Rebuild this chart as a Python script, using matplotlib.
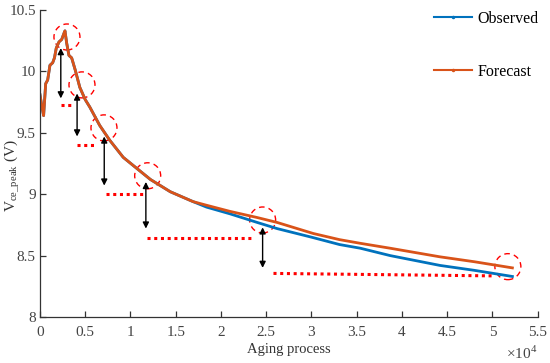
import numpy as np
import matplotlib
matplotlib.use('Agg')
import matplotlib.pyplot as plt
from matplotlib.patches import Ellipse
from matplotlib.lines import Line2D
from matplotlib.ticker import FuncFormatter

plt.rcParams['font.family'] = 'Liberation Serif'
plt.rcParams['mathtext.fontset'] = 'custom'
plt.rcParams['mathtext.rm'] = 'Liberation Serif'

# forecast curve (x in aging cycles, y in V)
x_fc = [0, 200, 400, 630, 850, 1100, 1400, 1600, 1800, 2100, 2400, 2650, 2760,
        2950, 3200, 3500, 3900, 4400, 5000, 5500, 6600, 7700, 9200, 10700,
        12200, 14400, 16900, 18400, 21000, 24000, 26200, 30200, 33100, 35400,
        38700, 44200, 48000, 52200]
y_fc = [9.81, 9.72, 9.64, 9.90, 9.93, 10.05, 10.07, 10.11, 10.19, 10.24, 10.26,
        10.31, 10.33, 10.23, 10.13, 10.11, 10.01, 9.87, 9.77, 9.71, 9.56, 9.44,
        9.30, 9.21, 9.12, 9.02, 8.94, 8.91, 8.86, 8.81, 8.77, 8.68, 8.63, 8.60,
        8.56, 8.49, 8.45, 8.40]

# observed curve
x_obs = [0, 200, 400, 630, 850, 1100, 1400, 1600, 1800, 2100, 2400, 2650, 2760,
         2950, 3200, 3500, 3900, 4400, 5000, 5500, 6600, 7700, 9200, 10700,
         12200, 14400, 16900, 18400, 21000, 24000, 26200, 30000, 33100, 35400,
         38700, 44200, 48000, 52200]
y_obs = [9.81, 9.72, 9.64, 9.90, 9.93, 10.05, 10.07, 10.11, 10.19, 10.24, 10.26,
         10.31, 10.33, 10.23, 10.13, 10.11, 10.01, 9.87, 9.77, 9.71, 9.56, 9.44,
         9.30, 9.21, 9.12, 9.02, 8.94, 8.895, 8.84, 8.77, 8.72, 8.65, 8.59, 8.56,
         8.50, 8.42, 8.38, 8.33]

# dashed circle centres
circ_x = [2980, 4640, 7070, 11900, 24600, 51700]
circ_y = [10.28, 9.89, 9.54, 9.15, 8.79, 8.41]

# red dotted levels: start x, end x, start y, end y
lev_x0 = [2300, 4100, 7300, 11800, 25800]
lev_x1 = [3500, 6100, 11400, 23600, 49900]
lev_y0 = [9.73, 9.40, 9.00, 8.64, 8.355]
lev_y1 = [9.73, 9.40, 9.00, 8.64, 8.335]

# double arrows: x, top y, bottom y
arr_x = [2300, 4100, 7100, 11700, 24600]
arr_top = [10.19, 9.82, 9.47, 9.10, 8.73]
arr_bot = [9.78, 9.47, 9.07, 8.72, 8.40]

xticks = np.arange(0, 55001, 5000)
yticks = [8, 8.5, 9, 9.5, 10, 10.5]

blue = '#0072BD'
orange = '#D95319'

fig = plt.figure(figsize=(5.5, 3.63), dpi=100)
ax = fig.add_axes([0.0727, 0.1267, 0.905, 0.8458])

ax.plot(x_obs, y_obs, color=blue, lw=2.0)
ax.plot(x_fc, y_fc, color=orange, lw=2.0)

for x0, x1, y0, y1 in zip(lev_x0, lev_x1, lev_y0, lev_y1):
    ax.plot([x0, x1], [y0, y1], color='red', ls=(0, (1, 1.2)), lw=2.2)

for x, yt, yb in zip(arr_x, arr_top, arr_bot):
    ax.annotate('', xy=(x, yt), xytext=(x, yb),
                arrowprops=dict(arrowstyle='<|-|>', color='black', lw=1.0,
                                mutation_scale=9, shrinkA=0, shrinkB=0))

# circles: radius ~13 px, converted to data units
rx = 13 / 90.5 * 1e4
ry = 13 / 122.8
for x, y in zip(circ_x, circ_y):
    ax.add_patch(Ellipse((x, y), 2 * rx, 2 * ry, fill=False, ec='red',
                         ls=(0, (4, 3)), lw=1.0))

ax.set_xlim(0, 55000)
ax.set_ylim(8, 10.5)
ax.set_xticks(xticks)
ax.set_yticks(yticks)
ax.xaxis.set_major_formatter(FuncFormatter(lambda v, p: f'{v / 1e4:g}'))
ax.yaxis.set_major_formatter(FuncFormatter(lambda v, p: f'{v:g}'))

for s in ['top', 'right']:
    ax.spines[s].set_visible(False)
for s in ['left', 'bottom']:
    ax.spines[s].set_color('#333333')
    ax.spines[s].set_linewidth(0.9)
ax.tick_params(direction='in', length=4, width=0.9, colors='#333333',
               labelsize=11, labelcolor='#444444')
ax.tick_params(axis='x', pad=6.5)
ax.tick_params(axis='y', pad=3)
ax.text(0.9986, -0.09, r'$\times$10$^4$', transform=ax.transAxes, ha='right',
        va='top', fontsize=11, color='#444444')

ax.set_xlabel('Aging process', fontsize=10.5, color='#333333', labelpad=3)
ax.set_ylabel(r'V$_{\rm ce\_peak}$ (V)', fontsize=11, color='#333333')
ax.yaxis.set_label_coords(-0.036, 0.46)

handles = [Line2D([0, 0.5, 1], [0, 0, 0], color=blue, lw=1.5, marker='.',
                  ms=3, markevery=[1]),
           Line2D([0, 0.5, 1], [0, 0, 0], color=orange, lw=1.5, marker='.',
                  ms=3, markevery=[1])]
ax.legend(handles, ['Observed', 'Forecast'], loc='upper right', frameon=False,
          fontsize=11.5, labelspacing=2.35, handlelength=2.4, handletextpad=0.3,
          bbox_to_anchor=(1.03, 1.045))

fig.savefig('out.png', dpi=100)
